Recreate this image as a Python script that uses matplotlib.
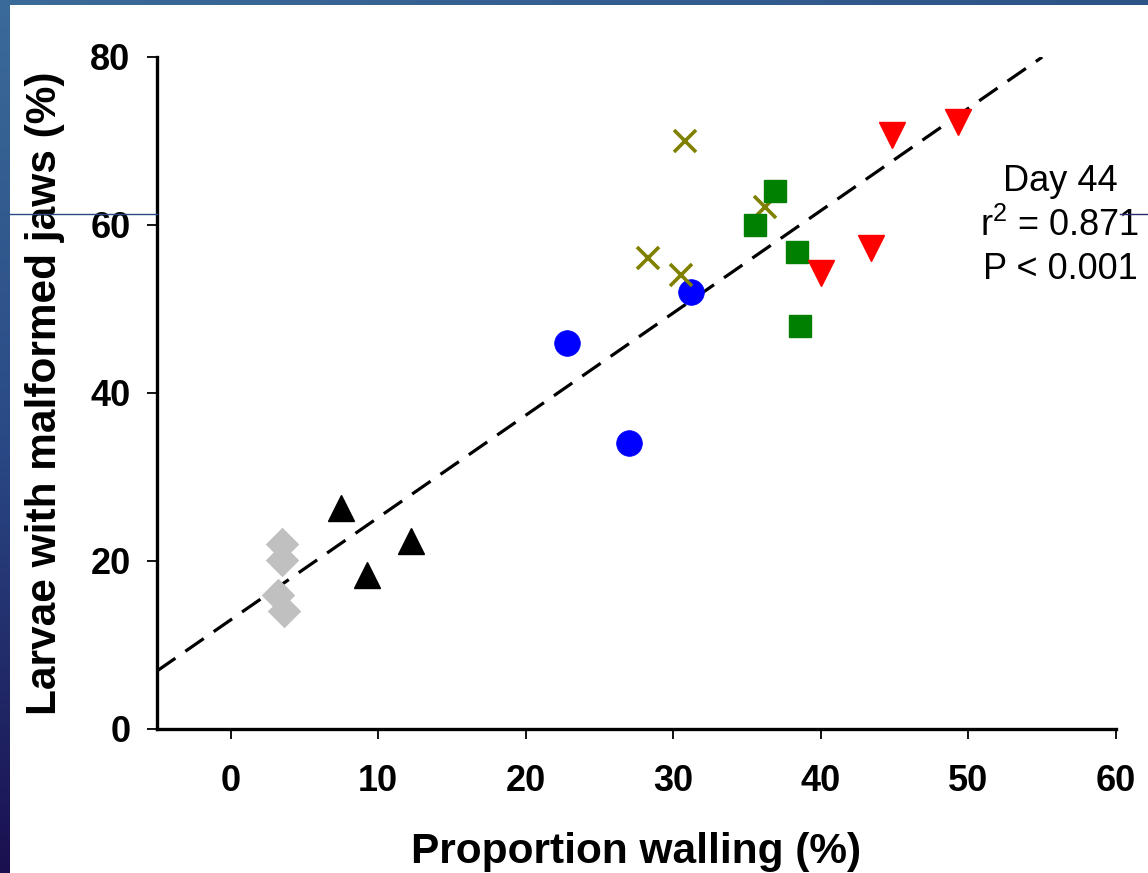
import numpy as np
import matplotlib
matplotlib.use("Agg")
import matplotlib.pyplot as plt
from matplotlib.lines import Line2D
from matplotlib.colors import LinearSegmentedColormap

plt.rcParams['font.family'] = ['Liberation Sans', 'DejaVu Sans']
plt.rcParams['mathtext.fontset'] = 'custom'
plt.rcParams['mathtext.rm'] = 'Liberation Sans'
plt.rcParams['mathtext.it'] = 'Liberation Sans'

# ---- data ----
gray_x = [3.5, 3.5, 3.2, 3.6]
gray_y = [22.0, 20.1, 16.0, 14.0]
black_x = [7.5, 9.2, 12.2]
black_y = [26.3, 18.3, 22.4]
blue_x = [22.8, 27.0, 31.2]
blue_y = [46.0, 34.0, 52.0]
olive_x = [30.8, 28.3, 30.5, 36.2]
olive_y = [70.0, 56.1, 54.0, 62.1]
green_x = [35.5, 36.9, 38.4, 38.6]
green_y = [60.0, 64.0, 56.8, 48.0]
red_x = [44.8, 49.3, 43.4, 40.0]
red_y = [70.7, 72.3, 57.3, 54.3]
fit_x = [-5.0, 55.0]
fit_slope = 1.218
fit_intercept = 13.0
xticks = [0, 10, 20, 30, 40, 50, 60]
yticks = [0, 20, 40, 60, 80]
annot = "Day 44\nr$^2$ = 0.871\nP < 0.001"

W, H = 1148, 873
fig = plt.figure(figsize=(W / 100, H / 100), dpi=100)

# slide background strips
grad = np.linspace(0, 1, 256).reshape(-1, 1)
cm_left = LinearSegmentedColormap.from_list('l', ['#3b6b98', '#2a4a86', '#1a1050'])
axl = fig.add_axes([0, 0, 10 / W, 1])
axl.imshow(grad, aspect='auto', cmap=cm_left, extent=[0, 1, 1, 0])
axl.axis('off')
cm_top = LinearSegmentedColormap.from_list('t', ['#3b6b98', '#2d5288'])
axt = fig.add_axes([0, 1 - 5 / H, 1, 5 / H])
axt.imshow(grad.T, aspect='auto', cmap=cm_top)
axt.axis('off')
fig.add_artist(Line2D([10 / W, 157 / W], [1 - 214 / H] * 2, transform=fig.transFigure,
                      color='#2a4a86', lw=1))
fig.add_artist(Line2D([1120 / W, 1], [1 - 214 / H] * 2, transform=fig.transFigure,
                      color='#2a2a70', lw=1))

ax = fig.add_axes([157 / W, 1 - 729 / H, (1116 - 157) / W, (729 - 57) / H])

fx = np.array(fit_x)
ax.plot(fx, fit_intercept + fit_slope * fx, color='black', lw=2.3,
        linestyle=(0, (7.0, 3.8)), zorder=1)

kw = dict(linestyle='none', zorder=3)
ax.plot(gray_x, gray_y, marker='D', ms=15.5, color='#c0c0c0', mec='#c0c0c0', mew=1.8, **kw)
ax.plot(black_x, black_y, marker='^', ms=18.5, color='black', mec='black', mew=1, **kw)
ax.plot(blue_x, blue_y, marker='o', ms=18.5, color='#0000ff', mec='#0000ff', mew=0.5, **kw)
ax.plot(olive_x, olive_y, marker='x', ms=16, color='#808000', mew=2.6, **kw)
ax.plot(green_x, green_y, marker='s', ms=15.5, color='#008000', mec='#008000', mew=1, **kw)
ax.plot(red_x, red_y, marker='v', ms=18.5, color='#ff0000', mec='#ff0000', mew=1, **kw)

ax.set_xlim(-5, 60)
ax.set_ylim(0, 80)
ax.set_xticks(xticks)
ax.set_yticks(yticks)
for s in ['top', 'right']:
    ax.spines[s].set_visible(False)
for s in ['left', 'bottom']:
    ax.spines[s].set_linewidth(2.4)
ax.tick_params(axis='both', direction='out', length=7, width=1.3, labelsize=26)
ax.tick_params(axis='y', pad=12)
ax.tick_params(axis='x', pad=18)
for lab in ax.get_xticklabels() + ax.get_yticklabels():
    lab.set_fontweight('bold')

ax.set_xlabel('Proportion walling (%)', fontsize=30.5, fontweight='bold', labelpad=24)
ax.set_ylabel('Larvae with malformed jaws (%)', fontsize=30.5, fontweight='bold', labelpad=18)

ax.text(1060 / W, 1 - 164 / H, annot, transform=fig.transFigure, fontsize=26,
        ha='center', va='top', multialignment='center', linespacing=1.3)

fig.savefig('out.png', dpi=100)
